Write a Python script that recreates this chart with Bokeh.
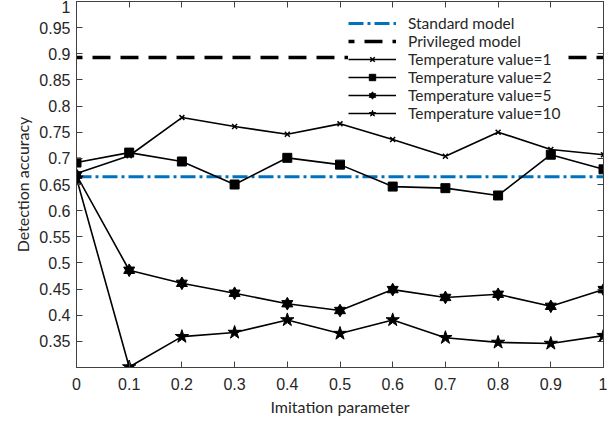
from bokeh.plotting import figure
from bokeh.models import Legend, LegendItem, LinearAxis, FixedTicker, Range1d
from bokeh.embed import file_html
from bokeh.resources import INLINE

# ---- data ----
imitation = [0.0, 0.1, 0.2, 0.3, 0.4, 0.5, 0.6, 0.7, 0.8, 0.9, 1.0]
temp1 = [0.671, 0.705, 0.778, 0.761, 0.746, 0.766, 0.736, 0.704, 0.750, 0.717, 0.707]
temp2 = [0.692, 0.711, 0.694, 0.650, 0.701, 0.688, 0.646, 0.643, 0.629, 0.707, 0.679]
temp5 = [0.668, 0.486, 0.461, 0.442, 0.422, 0.409, 0.449, 0.434, 0.440, 0.417, 0.449]
temp10 = [0.662, 0.301, 0.359, 0.367, 0.391, 0.365, 0.391, 0.357, 0.348, 0.346, 0.361]
standard_model = 0.665
privileged_model = 0.893

x_ticks = [0.0, 0.1, 0.2, 0.3, 0.4, 0.5, 0.6, 0.7, 0.8, 0.9, 1.0]
x_tick_labels = ["0", "0.1", "0.2", "0.3", "0.4", "0.5", "0.6", "0.7", "0.8", "0.9", "1"]
y_ticks = [0.35, 0.4, 0.45, 0.5, 0.55, 0.6, 0.65, 0.7, 0.75, 0.8, 0.85, 0.9, 0.95, 1.0]
y_tick_labels = ["0.35", "0.4", "0.45", "0.5", "0.55", "0.6", "0.65", "0.7", "0.75",
                 "0.8", "0.85", "0.9", "0.95", "1"]

legend_labels = ["Standard model", "Privileged model", "Temperature value=1",
                 "Temperature value=2", "Temperature value=5", "Temperature value=10"]

TICK_FONT = "Liberation Sans"
LABEL_FONT = "Lato"
AX_COLOR = "#404040"

p = figure(frame_width=527, frame_height=366, output_backend="svg", toolbar_location=None,
           x_range=Range1d(0, 1), y_range=Range1d(0.3, 1.0),
           min_border_left=76, min_border_right=4, min_border_top=1, min_border_bottom=0,
           background_fill_color="white", border_fill_color="white")
p.grid.visible = False
p.outline_line_color = AX_COLOR
p.outline_line_width = 1

def style_axis(ax, ticks, labels, show_labels):
    ax.ticker = FixedTicker(ticks=ticks)
    if show_labels:
        ax.major_label_overrides = {t: l for t, l in zip(ticks, labels)}
        ax.major_label_text_font_size = "16px"
    else:
        ax.major_label_overrides = {t: "" for t in ticks}
        ax.major_label_text_font_size = "1px"
        ax.major_label_standoff = 0
    ax.major_tick_in = 6
    ax.major_tick_out = 0
    ax.minor_tick_line_color = None
    ax.axis_line_color = AX_COLOR
    ax.major_tick_line_color = AX_COLOR
    ax.major_label_text_font = TICK_FONT
    ax.major_label_text_color = "#262626"

style_axis(p.xaxis[0], x_ticks, x_tick_labels, True)
style_axis(p.yaxis[0], y_ticks, y_tick_labels, True)
p.xaxis[0].major_label_standoff = 10
p.yaxis[0].major_label_standoff = 6

p.xaxis[0].axis_label = "Imitation parameter"
p.yaxis[0].axis_label = "Detection accuracy"
for ax in (p.xaxis[0], p.yaxis[0]):
    ax.axis_label_text_font = LABEL_FONT
    ax.axis_label_text_font_size = "16px"
    ax.axis_label_text_font_style = "normal"
    ax.axis_label_text_color = "#262626"
p.xaxis[0].axis_label_standoff = 4
p.yaxis[0].axis_label_standoff = 4

top_ax = LinearAxis()
right_ax = LinearAxis()
style_axis(top_ax, x_ticks, x_tick_labels, False)
style_axis(right_ax, y_ticks, y_tick_labels, False)
p.add_layout(top_ax, "above")
p.add_layout(right_ax, "right")

n = len(imitation)
r_std = p.line(imitation, [standard_model] * n, line_color="#0072BD", line_width=3,
               line_dash="15 4 3 4")
r_priv = p.line(imitation, [privileged_model] * n, line_color="black", line_width=3.5,
                line_dash="18 10", line_dash_offset=-16)

lw = 1.6
r1l = p.line(imitation, temp1, line_color="black", line_width=lw)
r1m = p.scatter(imitation, temp1, marker="x", size=7, line_color="black", line_width=1.5)
r2l = p.line(imitation, temp2, line_color="black", line_width=lw)
r2m = p.scatter(imitation, temp2, marker="square", size=9, fill_color="black", line_color="black")
r5l = p.line(imitation, temp5, line_color="black", line_width=lw)
r5a = p.scatter(imitation, temp5, marker="triangle", size=11, fill_color="black", line_color="black")
r5b = p.scatter(imitation, temp5, marker="inverted_triangle", size=11, fill_color="black", line_color="black")
r10l = p.line(imitation, temp10, line_color="black", line_width=lw)
r10m = p.scatter(imitation, temp10, marker="star", size=14, fill_color="black", line_color="black")

items = [
    LegendItem(label=legend_labels[0], renderers=[r_std]),
    LegendItem(label=legend_labels[1], renderers=[r_priv]),
    LegendItem(label=legend_labels[2], renderers=[r1l, r1m]),
    LegendItem(label=legend_labels[3], renderers=[r2l, r2m]),
    LegendItem(label=legend_labels[4], renderers=[r5l, r5a, r5b]),
    LegendItem(label=legend_labels[5], renderers=[r10l, r10m]),
]
legend = Legend(items=items, location=(272, 245), background_fill_color="white",
                background_fill_alpha=1.0, border_line_color=None,
                label_text_font=LABEL_FONT, label_text_font_size="15.5px",
                label_text_color="#262626",
                glyph_width=48, glyph_height=16, label_height=16, spacing=-3,
                label_standoff=12, padding=4, margin=0)
p.add_layout(legend, "center")

open("out.html", "w").write(file_html(p, INLINE))
